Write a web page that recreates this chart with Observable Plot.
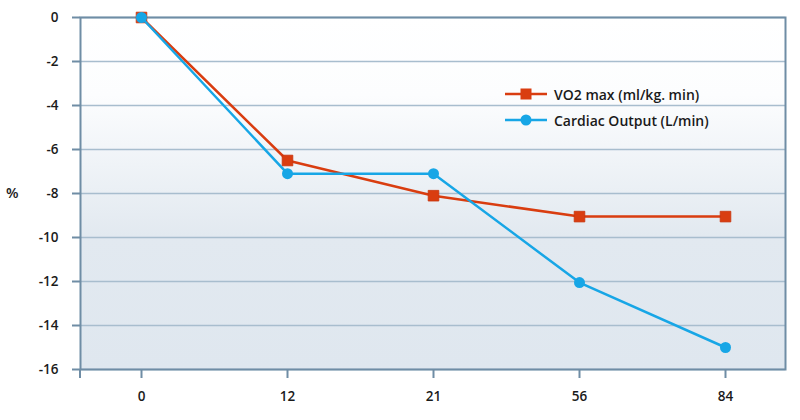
<!DOCTYPE html>
<html>
<head>
<meta charset="utf-8">
<script src="https://cdn.jsdelivr.net/npm/d3@7"></script>
<script src="https://cdn.jsdelivr.net/npm/@observablehq/plot@0.6"></script>
<style>
  html, body { margin: 0; padding: 0; background: #fff; }
  #wrap { position: relative; width: 800px; height: 420px; font-family: "Open Sans", sans-serif; color: #1a1a1a; font-weight: 600; }
  #ylab { position: absolute; left: 6px; top: 183px; font-size: 14.5px; }
  #legend { position: absolute; left: 505px; top: 81px; font-size: 14px; }
  .item { display: flex; align-items: center; height: 26px; }
  .item svg { margin-right: 7px; }
</style>
</head>
<body>
<div id="wrap">
  <div id="chart"></div>
  <div id="ylab">%</div>
  <div id="legend"></div>
</div>
<script>
const days = ["0", "12", "21", "56", "84"];
const vo2 = [0, -6.5, -8.1, -9.05, -9.05];
const cardiac = [0, -7.1, -7.1, -12.05, -15];
const seriesNames = ["VO2 max (ml/kg. min)", "Cardiac Output (L/min)"];
const yTicks = [0, -2, -4, -6, -8, -10, -12, -14, -16];

const red = "#d93d10";
const blue = "#17a6e6";
const axisColor = "#6f8da5";

const vo2Rows = days.map((d, i) => ({day: d, value: vo2[i]}));
const coRows = days.map((d, i) => ({day: d, value: cardiac[i]}));

const plot = Plot.plot({
  width: 800,
  height: 420,
  marginLeft: 80,
  marginRight: 15,
  marginTop: 17,
  marginBottom: 51,
  style: {fontFamily: "'Open Sans', sans-serif", fontSize: "13.5px", fontWeight: 600, color: "#1a1a1a", background: "transparent"},
  x: {type: "point", domain: days, padding: 0.414},
  y: {domain: [-16, 0]},
  marks: [
    Plot.frame({fill: "url(#bgGrad)", stroke: null}),
    Plot.gridY(yTicks, {stroke: "#a8bdce", strokeOpacity: 1, strokeWidth: 1.3}),
    Plot.frame({stroke: axisColor, strokeWidth: 2}),
    Plot.axisY(yTicks, {tickSize: 8, tickPadding: 14, stroke: axisColor, strokeWidth: 2, fontSize: 13.5, label: null, tickFormat: d => String(d)}),
    Plot.axisX({tickSize: 9, tickPadding: 13, stroke: axisColor, strokeWidth: 2, fontSize: 13.5, label: null}),
    Plot.line(vo2Rows, {x: "day", y: "value", stroke: red, strokeWidth: 2.5}),
    Plot.dot(vo2Rows, {x: "day", y: "value", symbol: "square", r: 6, fill: red, stroke: "#c8350c", strokeWidth: 0.8}),
    Plot.line(coRows, {x: "day", y: "value", stroke: blue, strokeWidth: 2.5}),
    Plot.dot(coRows, {x: "day", y: "value", symbol: "circle", r: 5.5, fill: blue})
  ]
});

const svg = d3.select(plot);
const defs = svg.insert("defs", ":first-child");
const g = defs.append("linearGradient").attr("id", "bgGrad")
  .attr("x1", 0).attr("y1", 0).attr("x2", 0).attr("y2", 1);
g.append("stop").attr("offset", "0%").attr("stop-color", "#ffffff");
g.append("stop").attr("offset", "22%").attr("stop-color", "#fcfdfe");
g.append("stop").attr("offset", "62%").attr("stop-color", "#e2e9f0");
g.append("stop").attr("offset", "100%").attr("stop-color", "#dfe7ef");

// extend left axis line below the plot bottom, like the reference
const yr = plot.scale("y").range;
const bottom = Math.max(...yr);
svg.append("line")
  .attr("x1", 80).attr("x2", 80)
  .attr("y1", bottom).attr("y2", bottom + 9)
  .attr("stroke", axisColor).attr("stroke-width", 2);

document.getElementById("chart").appendChild(plot);

// legend
const legend = d3.select("#legend");
[[seriesNames[0], red, "square"], [seriesNames[1], blue, "circle"]].forEach(([name, color, shape]) => {
  const item = legend.append("div").attr("class", "item");
  const s = item.append("svg").attr("width", 42).attr("height", 14);
  s.append("line").attr("x1", 0).attr("x2", 42).attr("y1", 7).attr("y2", 7).attr("stroke", color).attr("stroke-width", 2.5);
  if (shape === "square") s.append("rect").attr("x", 15.5).attr("y", 1.5).attr("width", 11).attr("height", 11).attr("fill", color);
  else s.append("circle").attr("cx", 21).attr("cy", 7).attr("r", 5.5).attr("fill", color);
  item.append("span").text(name);
});
</script>
</body>
</html>
